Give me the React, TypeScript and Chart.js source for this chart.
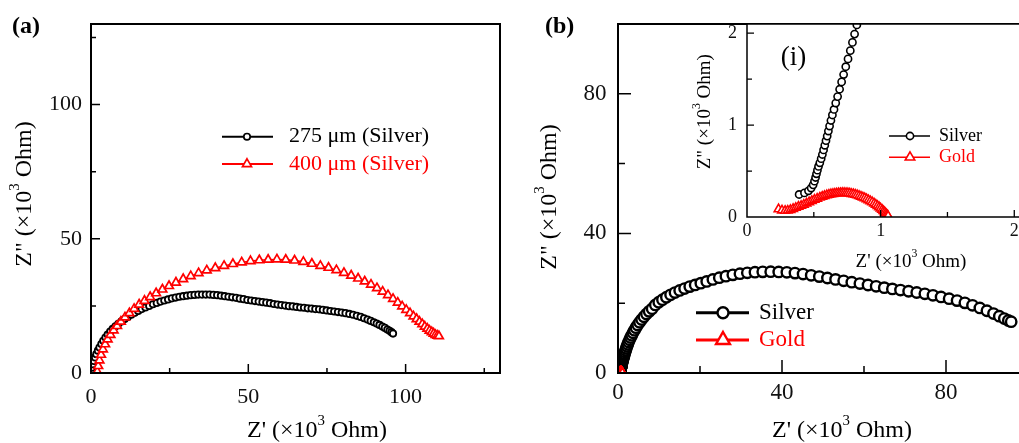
import React, { useEffect, useRef } from 'react';
import { Chart, registerables } from 'chart.js';

Chart.register(...registerables);

const FONT = '"Liberation Serif", "Times New Roman", serif';

// ---------- Panel (a): Z' vs Z'' (x10^3 Ohm) ----------
const silver275: [number, number][] = [
  [0.1, 0.8], [0.3, 2.0], [0.6, 3.3], [0.9, 4.5], [1.3, 5.8], [1.7, 7.0], [2.2, 8.3], [2.7, 9.5], [3.3, 10.8], [3.9, 12.0],
  [4.6, 13.2], [5.3, 14.3], [6.1, 15.4], [6.9, 16.4], [7.8, 17.4], [8.7, 18.3], [9.7, 19.2], [10.7, 20.1], [11.7, 20.9], [12.8, 21.7],
  [13.9, 22.4], [15.0, 23.1], [16.1, 23.8], [17.3, 24.4], [18.5, 25.0], [19.7, 25.6], [20.9, 26.1], [22.1, 26.6], [23.3, 27.0], [24.5, 27.4],
  [25.7, 27.8], [26.9, 28.1], [28.1, 28.4], [29.3, 28.6], [30.5, 28.8], [31.7, 29.0], [32.9, 29.1], [34.1, 29.2], [35.3, 29.2], [36.5, 29.2],
  [37.7, 29.2], [38.9, 29.1], [40.1, 29.0], [41.3, 28.8], [42.5, 28.6], [43.7, 28.4], [44.9, 28.2], [46.1, 28.0], [47.3, 27.7], [48.5, 27.5],
  [49.7, 27.2], [50.9, 27.0], [52.1, 26.8], [53.3, 26.6], [54.5, 26.4], [55.7, 26.2], [56.9, 26.0], [58.1, 25.7], [59.3, 25.5], [60.5, 25.3],
  [61.7, 25.1], [62.9, 24.9], [64.1, 24.8], [65.3, 24.6], [66.5, 24.4], [67.7, 24.3], [68.9, 24.1], [70.1, 24.0], [71.3, 23.8], [72.5, 23.7],
  [73.7, 23.5], [74.9, 23.3], [76.1, 23.1], [77.3, 22.9], [78.5, 22.7], [79.7, 22.5], [80.9, 22.3], [82.1, 22.0], [83.3, 21.7], [84.5, 21.3],
  [85.7, 20.9], [86.8, 20.4], [87.9, 19.9], [88.9, 19.4], [89.9, 18.9], [90.8, 18.4], [91.7, 17.9], [92.6, 17.3], [93.4, 16.8], [94.2, 16.2],
  [94.9, 15.7], [95.5, 15.2], [96.0, 14.7],
];

const silver400: [number, number][] = [
  [2.0, 0.5], [2.3, 2.6], [2.7, 4.7], [3.2, 6.8], [3.8, 8.8], [4.5, 10.7], [5.3, 12.5], [6.2, 14.2], [7.2, 15.9], [8.3, 17.5],
  [9.5, 19.1], [10.8, 20.7], [12.2, 22.3], [13.7, 23.9], [15.3, 25.5], [17.0, 26.9], [18.8, 28.3], [20.7, 29.7], [22.7, 31.1], [24.8, 32.4],
  [27.0, 33.7], [29.3, 35.0], [31.7, 36.1], [34.2, 37.2], [36.8, 38.2], [39.5, 39.1], [42.3, 39.9], [45.1, 40.6], [47.9, 41.2], [50.7, 41.7],
  [53.5, 42.0], [56.3, 42.2], [59.1, 42.3], [61.9, 42.2], [64.7, 41.9], [67.5, 41.4], [70.2, 40.7], [72.9, 39.9], [75.5, 39.2], [78.0, 38.3],
  [80.4, 37.3], [82.7, 36.3], [84.9, 35.2], [87.0, 34.1], [89.0, 32.9], [90.9, 31.6], [92.7, 30.3], [94.4, 29.0], [96.0, 27.6], [97.5, 26.2],
  [98.9, 24.8], [100.2, 23.5], [101.4, 22.3], [102.5, 21.1], [103.5, 20.1], [104.4, 19.1], [105.3, 18.2], [106.1, 17.3], [106.9, 16.5], [107.6, 15.8],
  [108.3, 15.2], [108.9, 14.7], [109.5, 14.2], [110.1, 13.9], [110.6, 13.7],
];

const aLabels = [0, 50, 100];
const aMajor = [50, 100];
const aMinor = [25, 75, 125];

// ---------- Panel (b) and inset (i) ----------
const silverB: [number, number][] = [
  [0.39, 0.245], [0.43, 0.262], [0.46, 0.285], [0.48, 0.315], [0.495, 0.35], [0.505, 0.39], [0.513, 0.43], [0.52, 0.47], [0.527, 0.51], [0.535, 0.55],
  [0.545, 0.59], [0.555, 0.635], [0.564, 0.68], [0.573, 0.73], [0.582, 0.78], [0.591, 0.83], [0.6, 0.88], [0.609, 0.935], [0.618, 0.99], [0.628, 1.05],
  [0.639, 1.11], [0.651, 1.17], [0.664, 1.24], [0.678, 1.31], [0.693, 1.39], [0.708, 1.47], [0.723, 1.55], [0.739, 1.635], [0.756, 1.72], [0.773, 1.81],
  [0.789, 1.9], [0.805, 1.99], [0.822, 2.09], [0.84, 2.2], [0.86, 2.32], [0.89, 2.46], [0.92, 2.62], [0.96, 2.8], [1.0, 3.0], [1.05, 3.22],
  [1.1, 3.46], [1.16, 3.72], [1.23, 4.0], [1.31, 4.32], [1.4, 4.68], [1.5, 5.08], [1.61, 5.52], [1.73, 6.0], [1.87, 6.52], [2.02, 7.06],
  [2.19, 7.64], [2.38, 8.24], [2.59, 8.86], [2.82, 9.5], [3.07, 10.16], [3.35, 10.84], [3.66, 11.54], [4.0, 12.26], [4.38, 13.0], [4.8, 13.76],
  [5.26, 14.54], [5.77, 15.32], [6.33, 16.1], [6.94, 16.88], [7.6, 17.66], [8.32, 18.42], [9.1, 19.5], [9.94, 20.3], [10.84, 21.0], [11.8, 21.7],
  [12.82, 22.4], [13.9, 23.05], [15.04, 23.65], [16.24, 24.2], [17.5, 24.75], [18.82, 25.25], [20.2, 25.75], [21.64, 26.25], [23.14, 26.8], [24.7, 27.3],
  [26.32, 27.75], [28.0, 28.12], [29.74, 28.45], [31.54, 28.7], [33.4, 28.88], [35.3, 28.98], [37.24, 29.02], [39.2, 28.96], [41.18, 28.84], [43.16, 28.62],
  [45.14, 28.34], [47.12, 28.0], [49.1, 27.62], [51.08, 27.22], [53.06, 26.82], [55.04, 26.42], [57.02, 26.02], [59.0, 25.62], [60.98, 25.22], [62.96, 24.84],
  [64.94, 24.46], [66.92, 24.1], [68.9, 23.76], [70.88, 23.42], [72.86, 23.06], [74.84, 22.68], [76.82, 22.26], [78.8, 21.8], [80.76, 21.3], [82.7, 20.74],
  [84.6, 20.1], [86.46, 19.4], [88.26, 18.64], [89.98, 17.84], [91.58, 17.04], [93.0, 16.28], [94.22, 15.6], [95.2, 15.05], [95.9, 14.7],
];

const goldB: [number, number][] = [
  [0.236, 0.085], [0.262, 0.072], [0.285, 0.068], [0.305, 0.07], [0.325, 0.078], [0.345, 0.088], [0.365, 0.1], [0.385, 0.112], [0.405, 0.122], [0.425, 0.135],
  [0.445, 0.148], [0.465, 0.162], [0.485, 0.175], [0.505, 0.188], [0.525, 0.2], [0.545, 0.212], [0.563, 0.222], [0.58, 0.23], [0.597, 0.237], [0.613, 0.243],
  [0.628, 0.248], [0.643, 0.252], [0.657, 0.255], [0.671, 0.258], [0.685, 0.26], [0.699, 0.261], [0.713, 0.262], [0.727, 0.262], [0.741, 0.261], [0.755, 0.259],
  [0.769, 0.256], [0.783, 0.252], [0.797, 0.248], [0.811, 0.243], [0.825, 0.237], [0.839, 0.23], [0.853, 0.222], [0.867, 0.214], [0.881, 0.205], [0.895, 0.195],
  [0.909, 0.184], [0.923, 0.173], [0.937, 0.161], [0.951, 0.148], [0.964, 0.135], [0.977, 0.121], [0.989, 0.107], [1.0, 0.093], [1.011, 0.079], [1.021, 0.065],
  [1.03, 0.052], [1.038, 0.04], [1.045, 0.029], [1.051, 0.019], [1.056, 0.01],
];

const bLabels = [0, 40, 80];
const bMajor = [40, 80];
const bMinorX = [20, 60, 100];
const bMinorY = [20, 60];

const iLabels = [0, 1, 2];
const iMajor = [1, 2];
const iMinor = [0.5, 1.5];

const RED = '#ff0000';
const BLACK = '#000000';

// ---------- helpers ----------
type Txt = { text: string; x: number; y: number; size: number; bold?: boolean; rotate?: boolean; align?: 'left' | 'center'; color?: string };
type LegItem = { label: string; color: string; shape: 'circle' | 'triangle'; r: number };
type Decor = {
  fill?: string;
  frame: number;
  tickW: number;
  majorLen: number;
  minorLen: number;
  xMajor: number[];
  xMinor: number[];
  yMajor: number[];
  yMinor: number[];
  texts: Txt[];
  legend: { items: LegItem[]; x0: number; x1: number; mx: number; y0: number; dy: number; tx: number; size: number; lw: number; pbw: number };
};

function drawShape(ctx: CanvasRenderingContext2D, shape: string, x: number, y: number, r: number, color: string, bw: number) {
  ctx.beginPath();
  if (shape === 'circle') {
    ctx.arc(x, y, r, 0, Math.PI * 2);
  } else {
    const a1 = (2 * Math.PI) / 3;
    const a2 = (4 * Math.PI) / 3;
    ctx.moveTo(x, y - r);
    ctx.lineTo(x + r * Math.sin(a1), y - r * Math.cos(a1));
    ctx.lineTo(x + r * Math.sin(a2), y - r * Math.cos(a2));
    ctx.closePath();
  }
  ctx.fillStyle = '#fff';
  ctx.fill();
  ctx.lineWidth = bw;
  ctx.strokeStyle = color;
  ctx.stroke();
}

function drawRich(ctx: CanvasRenderingContext2D, s: string, x: number, y: number, size: number, bold: boolean, align: string, color: string) {
  const parts = s.split(/\^\{([^}]*)\}/);
  const f = (sz: number) => `${bold ? 'bold ' : ''}${sz}px ${FONT}`;
  let w = 0;
  parts.forEach((p, i) => {
    ctx.font = f(i % 2 === 1 ? size * 0.62 : size);
    w += ctx.measureText(p).width;
  });
  ctx.textBaseline = 'middle';
  ctx.textAlign = 'left';
  ctx.fillStyle = color;
  let cx = align === 'center' ? x - w / 2 : x;
  parts.forEach((p, i) => {
    const sup = i % 2 === 1;
    ctx.font = f(sup ? size * 0.62 : size);
    ctx.fillText(p, cx, sup ? y - size * 0.4 : y);
    cx += ctx.measureText(p).width;
  });
}

function makeDecor(d: Decor) {
  return {
    id: 'decor',
    beforeDatasetsDraw(chart: any) {
      if (!d.fill) return;
      const { left, top, right, bottom } = chart.chartArea;
      const ctx = chart.ctx as CanvasRenderingContext2D;
      ctx.save();
      ctx.fillStyle = d.fill;
      ctx.fillRect(left, top, right - left, bottom - top);
      ctx.restore();
    },
    afterDraw(chart: any) {
      const ctx = chart.ctx as CanvasRenderingContext2D;
      const { left, top, right, bottom } = chart.chartArea;
      const xs = chart.scales.x;
      const ys = chart.scales.y;
      ctx.save();
      ctx.strokeStyle = BLACK;
      ctx.lineWidth = d.tickW;
      ctx.beginPath();
      d.xMajor.forEach((v) => { const p = xs.getPixelForValue(v); ctx.moveTo(p, bottom); ctx.lineTo(p, bottom - d.majorLen); });
      d.xMinor.forEach((v) => { const p = xs.getPixelForValue(v); ctx.moveTo(p, bottom); ctx.lineTo(p, bottom - d.minorLen); });
      d.yMajor.forEach((v) => { const p = ys.getPixelForValue(v); ctx.moveTo(left, p); ctx.lineTo(left + d.majorLen, p); });
      d.yMinor.forEach((v) => { const p = ys.getPixelForValue(v); ctx.moveTo(left, p); ctx.lineTo(left + d.minorLen, p); });
      ctx.stroke();
      ctx.lineWidth = d.frame;
      ctx.strokeRect(left, top, right - left, bottom - top);

      const L = d.legend;
      L.items.forEach((it, i) => {
        const y = L.y0 + i * L.dy;
        ctx.beginPath();
        ctx.moveTo(L.x0, y);
        ctx.lineTo(L.x1, y);
        ctx.strokeStyle = it.color;
        ctx.lineWidth = L.lw;
        ctx.stroke();
        drawShape(ctx, it.shape, L.mx, y, it.r, it.color, L.pbw);
        drawRich(ctx, it.label, L.tx, y, L.size, false, 'left', it.color);
      });

      d.texts.forEach((t) => {
        ctx.save();
        if (t.rotate) {
          ctx.translate(t.x, t.y);
          ctx.rotate(-Math.PI / 2);
          drawRich(ctx, t.text, 0, 0, t.size, !!t.bold, t.align || 'center', t.color || BLACK);
        } else {
          drawRich(ctx, t.text, t.x, t.y, t.size, !!t.bold, t.align || 'center', t.color || BLACK);
        }
        ctx.restore();
      });
      ctx.restore();
    },
  };
}

function axis(min: number, max: number, labels: number[], size: number, pad: number, isX: boolean, fit: number) {
  return {
    type: 'linear',
    min,
    max,
    afterBuildTicks: (s: any) => { s.ticks = labels.map((v) => ({ value: v })); },
    afterFit: (s: any) => {
      if (isX) s.height = fit; else s.width = fit;
      s.paddingLeft = 0; s.paddingRight = 0; s.paddingTop = 0; s.paddingBottom = 0;
    },
    grid: { display: false, drawTicks: false },
    border: { display: false },
    ticks: { padding: pad, color: '#111', font: { family: FONT, size }, maxRotation: 0, autoSkip: false, callback: (v: any) => String(v) },
  };
}

function series(pts: [number, number][], color: string, shape: string, r: number, bw: number, lw: number, order: number) {
  return {
    data: pts.map(([x, y]) => ({ x, y })),
    showLine: true,
    borderColor: color,
    borderWidth: lw,
    pointStyle: shape,
    pointRadius: r,
    pointBorderWidth: bw,
    pointBackgroundColor: '#fff',
    pointBorderColor: color,
    order,
  };
}

function config(datasets: any[], x: any, y: any, padding: any, decor: Decor) {
  return {
    type: 'scatter',
    data: { datasets },
    options: {
      responsive: false,
      animation: false,
      devicePixelRatio: 1,
      events: [],
      layout: { padding },
      scales: { x, y },
      plugins: { legend: { display: false }, tooltip: { enabled: false } },
    },
    plugins: [makeDecor(decor)],
  } as any;
}

const TITLE_X = "Z' (×10^{3} Ohm)";
const TITLE_Y = 'Z" (×10^{3} Ohm)';

function buildA() {
  return config(
    [
      series(silver275, BLACK, 'circle', 3.2, 1.8, 1.5, 2),
      series(silver400, RED, 'triangle', 5, 1.7, 1.5, 1),
    ],
    axis(0, 130, aLabels, 22, 11, true, 70),
    axis(0, 130, aLabels, 22, 9, false, 91),
    { left: 0, top: 24, right: 20, bottom: 0 },
    {
      frame: 2, tickW: 1.5, majorLen: 9, minorLen: 5,
      xMajor: aMajor, xMinor: aMinor, yMajor: aMajor, yMinor: aMinor,
      texts: [
        { text: '(a)', x: 12, y: 27, size: 24, bold: true, align: 'left' },
        { text: TITLE_X, x: 317, y: 431, size: 24 },
        { text: TITLE_Y, x: 25, y: 194, size: 24, rotate: true },
      ],
      legend: {
        items: [
          { label: '275 μm (Silver)', color: BLACK, shape: 'circle', r: 3.2 },
          { label: '400 μm (Silver)', color: RED, shape: 'triangle', r: 5.2 },
        ],
        x0: 222, x1: 273, mx: 247, y0: 136.7, dy: 27.3, tx: 289, size: 22, lw: 2, pbw: 1.7,
      },
    },
  );
}

function buildB() {
  return config(
    [
      series(silverB, BLACK, 'circle', 5.2, 2.4, 2, 2),
      series(goldB, RED, 'triangle', 5, 1.8, 2, 1),
    ],
    axis(0, 100, bLabels, 23, 6.5, true, 70),
    axis(0, 100, bLabels, 23, 11.6, false, 98),
    { left: 0, top: 24, right: 22, bottom: 0 },
    {
      frame: 2, tickW: 1.5, majorLen: 13, minorLen: 7,
      xMajor: bMajor, xMinor: bMinorX, yMajor: bMajor, yMinor: bMinorY,
      texts: [
        { text: '(b)', x: 25, y: 27, size: 24, bold: true, align: 'left' },
        { text: TITLE_X, x: 322, y: 431, size: 24 },
        { text: TITLE_Y, x: 30, y: 197, size: 24, rotate: true },
      ],
      legend: {
        items: [
          { label: 'Silver', color: BLACK, shape: 'circle', r: 5.5 },
          { label: 'Gold', color: RED, shape: 'triangle', r: 8 },
        ],
        x0: 176, x1: 229, mx: 203, y0: 312.7, dy: 27.3, tx: 239, size: 23, lw: 3, pbw: 2.4,
      },
    },
  );
}

function buildInset() {
  return config(
    [
      series(silverB, BLACK, 'circle', 3.6, 1.6, 1.5, 2),
      series(goldB, RED, 'triangle', 5, 1.6, 1.5, 1),
    ],
    axis(0, 2.2, iLabels, 18, 3, true, 73),
    axis(0, 2.1, iLabels, 18, 10, false, 57),
    { left: 0, top: 24, right: 9, bottom: 0 },
    {
      fill: '#ffffff',
      frame: 1.5, tickW: 1.3, majorLen: 7, minorLen: 5,
      xMajor: iMajor, xMinor: iMinor, yMajor: iMajor, yMinor: iMinor,
      texts: [
        { text: '(i)', x: 103.5, y: 58, size: 27 },
        { text: TITLE_X, x: 221, y: 261.7, size: 19 },
        { text: TITLE_Y, x: 15, y: 111.7, size: 19, rotate: true },
      ],
      legend: {
        items: [
          { label: 'Silver', color: BLACK, shape: 'circle', r: 3.6 },
          { label: 'Gold', color: RED, shape: 'triangle', r: 5.5 },
        ],
        x0: 199, x1: 240, mx: 220, y0: 136, dy: 21.3, tx: 249, size: 18, lw: 1.6, pbw: 1.6,
      },
    },
  );
}

function ChartCanvas(props: { left: number; top: number; width: number; height: number; build: () => any }) {
  const ref = useRef<HTMLCanvasElement>(null);
  useEffect(() => {
    const chart = new Chart(ref.current as HTMLCanvasElement, props.build());
    return () => chart.destroy();
  }, []);
  return (
    <canvas
      ref={ref}
      width={props.width}
      height={props.height}
      style={{ position: 'absolute', left: props.left, top: props.top, width: props.width, height: props.height }}
    />
  );
}

export default function App() {
  return (
    <div style={{ position: 'fixed', left: 0, top: 0, width: 1019, height: 443, overflow: 'hidden', background: '#fff' }}>
      <ChartCanvas left={0} top={0} width={520} height={443} build={buildA} />
      <ChartCanvas left={520} top={0} width={530} height={443} build={buildB} />
      <ChartCanvas left={690} top={0} width={360} height={290} build={buildInset} />
    </div>
  );
}
